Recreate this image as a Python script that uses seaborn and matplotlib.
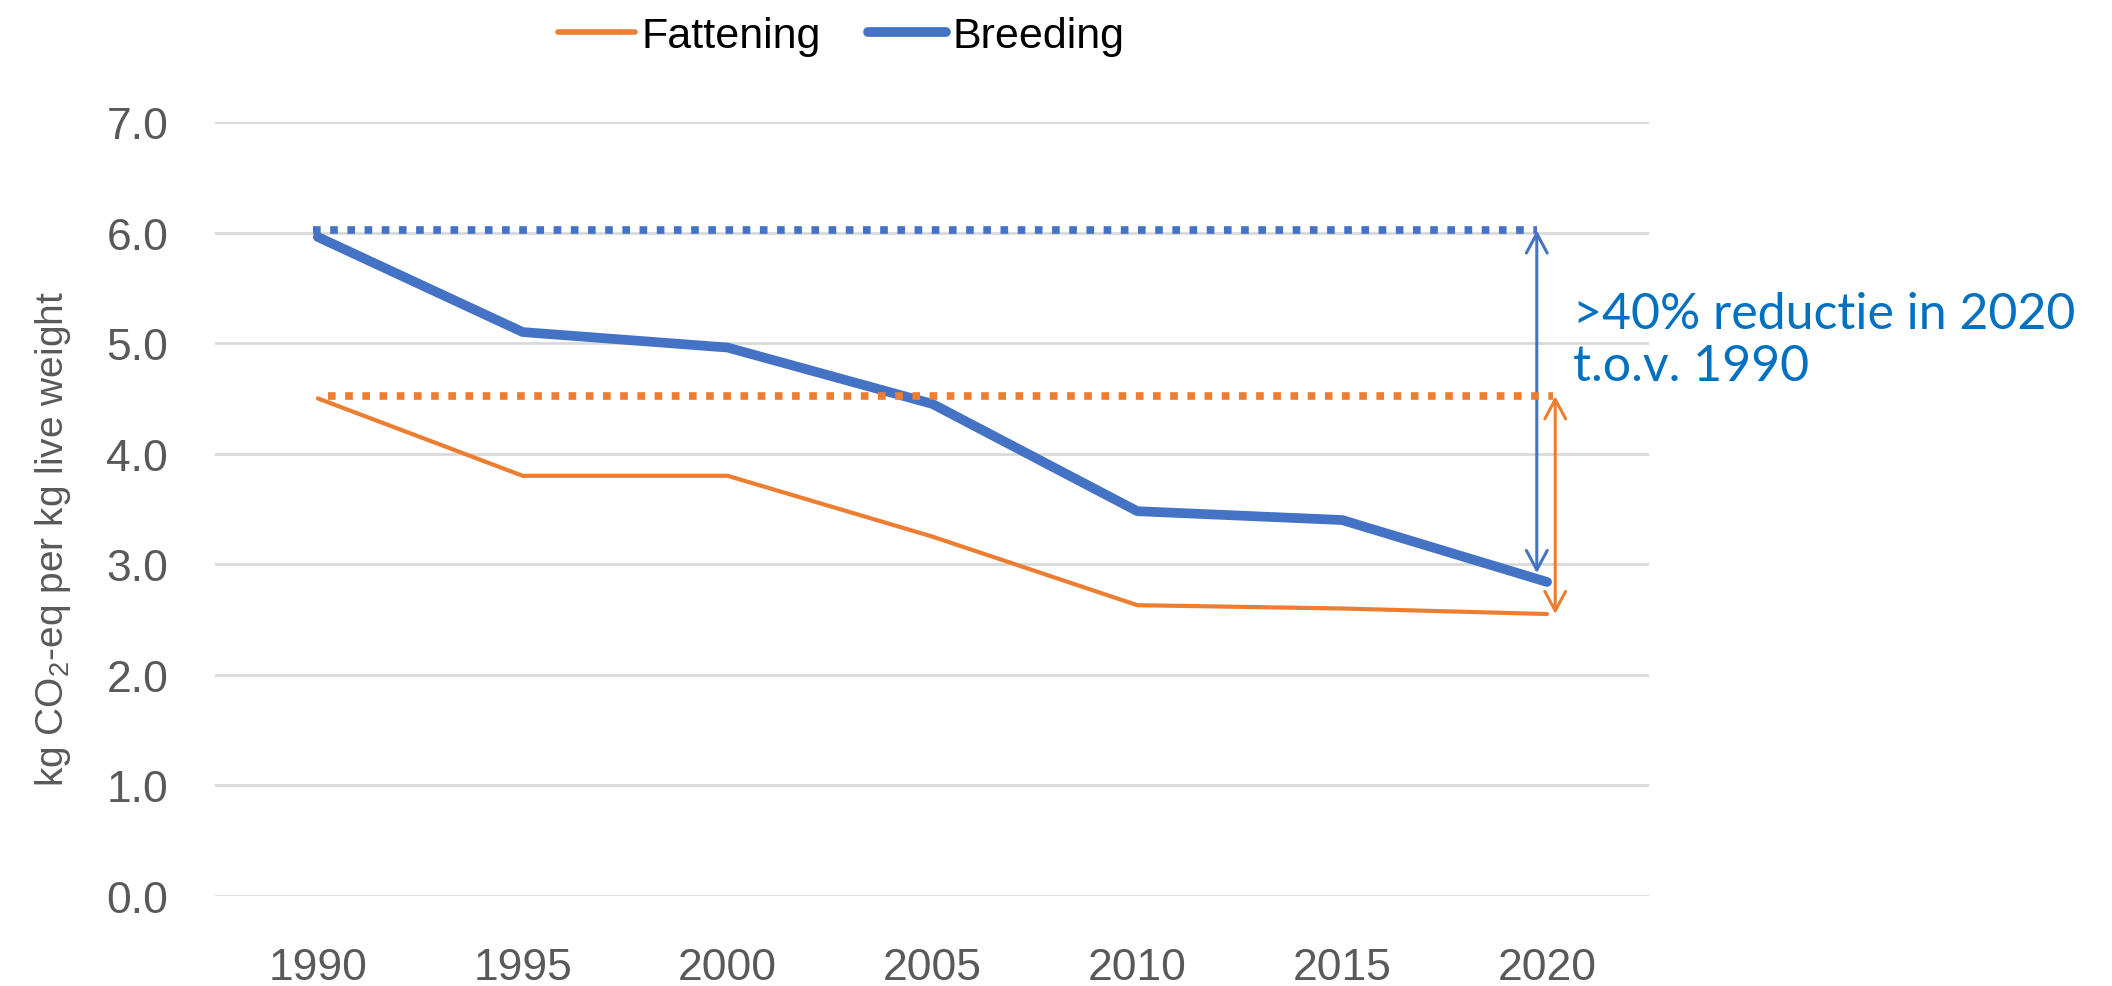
import matplotlib
matplotlib.use("Agg")
import matplotlib.pyplot as plt
import pandas as pd
import seaborn as sns

# Data
years = ["1990", "1995", "2000", "2005", "2010", "2015", "2020"]
fattening = [4.50, 3.80, 3.80, 3.25, 2.63, 2.60, 2.55]
breeding = [5.96, 5.10, 4.96, 4.45, 3.48, 3.40, 2.84]
series_names = ["Fattening", "Breeding"]
ref_breeding = 6.02
ref_fattening = 4.52
y_ticks = [0.0, 1.0, 2.0, 3.0, 4.0, 5.0, 6.0, 7.0]

ORANGE = "#ED7D31"
BLUE = "#4472C4"
TEXT_BLUE = "#0070C0"
GREY = "#595959"

sns.set_style("white")
plt.rcParams["font.family"] = ["Liberation Sans", "DejaVu Sans"]
plt.rcParams["mathtext.fontset"] = "custom"
plt.rcParams["mathtext.rm"] = "Liberation Sans"

df = pd.DataFrame({
    "year": years * 2,
    "value": fattening + breeding,
    "series": [series_names[0]] * len(years) + [series_names[1]] * len(years),
})

fig = plt.figure(figsize=(21.12, 9.87), dpi=100)
ax = fig.add_axes([0.102, 0.0912, 0.679, 0.7842])

sns.lineplot(data=df, x="year", y="value", hue="series", hue_order=series_names,
             palette=[ORANGE, BLUE], sort=False, ax=ax, legend=False)
lines = ax.get_lines()
lines[0].set_linewidth(3.0)
lines[1].set_linewidth(7.0)
for ln in lines:
    ln.set_solid_capstyle("round")
    ln.set_solid_joinstyle("round")

# dotted 1990 reference levels
ax.plot([-0.025, 5.95], [ref_breeding, ref_breeding], color=BLUE, lw=5.5,
        linestyle=(0, (1, 1.25)), dash_capstyle="butt", zorder=4)
ax.plot([0.05, 6.03], [ref_fattening, ref_fattening], color=ORANGE, lw=5.5,
        linestyle=(0, (1, 1.25)), dash_capstyle="butt", zorder=4)

# double arrows
arrow_style = "<->,head_length=1.4,head_width=0.75"
ax.annotate("", xy=(5.95, breeding[-1] + 0.08), xytext=(5.95, ref_breeding),
            arrowprops=dict(arrowstyle=arrow_style, color=BLUE, lw=2.2,
                            shrinkA=0, shrinkB=0))
ax.annotate("", xy=(6.04, fattening[-1]), xytext=(6.04, ref_fattening),
            arrowprops=dict(arrowstyle=arrow_style, color=ORANGE, lw=2.2,
                            shrinkA=0, shrinkB=0))

fig.text(1573 / 2112, 1 - 341 / 987, ">40% reductie in 2020\nt.o.v. 1990",
         color=TEXT_BLUE, fontsize=36, family=["Lato", "DejaVu Sans"],
         ha="left", va="center", linespacing=1.17)

ax.set_xlim(-0.5, 6.5)
ax.set_ylim(0, 7)
ax.set_yticks(y_ticks)
ax.set_yticklabels([f"{t:.1f}" for t in y_ticks])
ax.grid(axis="y", color="#D9D9D9", lw=2)
ax.grid(axis="x", visible=False)
for s in ax.spines.values():
    s.set_visible(False)
ax.tick_params(axis="y", length=0, pad=34, labelsize=32, labelcolor=GREY)
ax.tick_params(axis="x", length=0, pad=37, labelsize=32, labelcolor=GREY)
ax.set_xlabel("")
ax.set_ylabel(r"kg CO$_2$-eq per kg live weight", fontsize=28, color=GREY)
ax.yaxis.set_label_coords(-0.099, 0.4625)

handles = [plt.Line2D([], [], color=ORANGE, lw=4, solid_capstyle="round"),
           plt.Line2D([], [], color=BLUE, lw=7, solid_capstyle="round")]
fig.legend(handles, series_names, loc="center", bbox_to_anchor=(841 / 2112, 1 - 37 / 987),
           ncol=2, frameon=False, fontsize=31, handlelength=1.8, handletextpad=0.15,
           columnspacing=1.1, labelcolor="black")

fig.savefig("out.png", dpi=100)
